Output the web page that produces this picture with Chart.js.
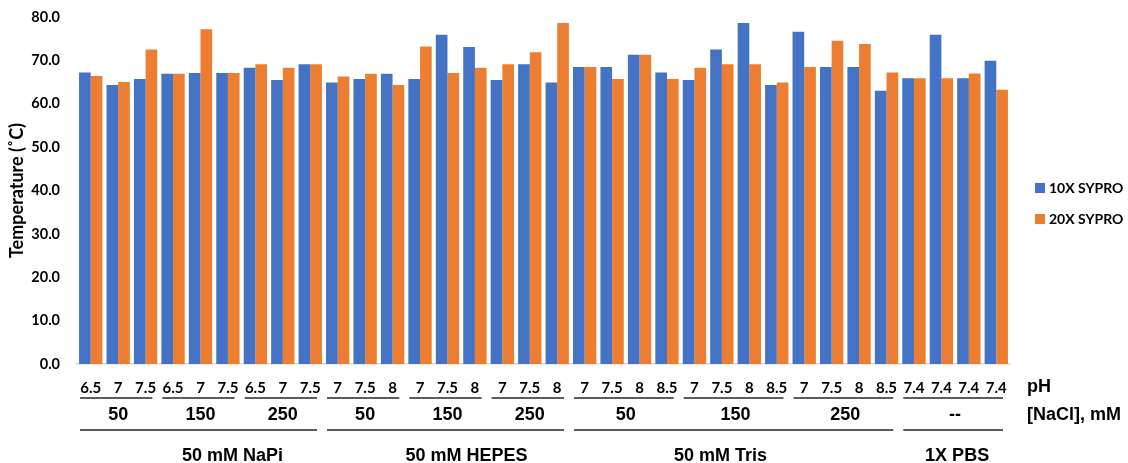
<!DOCTYPE html>
<html>
<head>
<meta charset="utf-8">
<script src="https://cdn.jsdelivr.net/npm/chart.js@4"></script>
<style>
  body { margin: 0; background: #fff; }
  #wrap { width: 1128px; height: 463px; }
</style>
</head>
<body>
<div id="wrap"><canvas id="chart" width="1128" height="463"></canvas></div>
<script>
// DATA
const phLabels = ['6.5', '7', '7.5', '6.5', '7', '7.5', '6.5', '7', '7.5',
    '7', '7.5', '8', '7', '7.5', '8', '7', '7.5', '8',
    '7', '7.5', '8', '8.5', '7', '7.5', '8', '8.5', '7', '7.5', '8', '8.5',
    '7.4', '7.4', '7.4', '7.4'];
const sypro10x = [67.2, 64.3, 65.7, 66.9, 67.1, 67.1, 68.3, 65.5, 69.1,
    64.9, 65.7, 66.9, 65.7, 75.9, 73.1, 65.5, 69.1, 64.9,
    68.5, 68.5, 71.3, 67.2, 65.5, 72.5, 78.6, 64.3, 76.6, 68.5, 68.5, 63.0,
    65.9, 75.9, 65.9, 69.9];
const sypro20x = [66.4, 65.0, 72.5, 66.9, 77.2, 67.1, 69.1, 68.3, 69.1,
    66.3, 66.9, 64.3, 73.2, 67.1, 68.3, 69.1, 71.9, 78.6,
    68.5, 65.7, 71.3, 65.7, 68.3, 69.1, 69.1, 64.9, 68.5, 74.5, 73.8, 67.2,
    65.9, 65.9, 67.0, 63.2];
const naclLabels = ['50', '150', '250', '50', '150', '250', '50', '150', '250', '--'];
const naclSizes = [3, 3, 3, 3, 3, 3, 4, 4, 4, 4];
const bufferLabels = ['50 mM NaPi', '50 mM HEPES', '50 mM Tris', '1X PBS'];
const bufferSizes = [9, 9, 12, 4];
const seriesNames = ['10X SYPRO', '20X SYPRO'];
const seriesColors = ['#4472C4', '#ED7D31'];

const boldLato = (size) => ({ family: 'Lato', weight: 'bold', size: size });
const arialBold = 'bold 18px "Liberation Sans"';

// draws the nested category rows, side labels and the legend
const groupLabels = {
    id: 'groupLabels',
    afterDraw(chart, args, opts) {
        const ctx = chart.ctx;
        const x = chart.scales.x;
        const w = x.width / phLabels.length;
        const left = i => x.getPixelForValue(i) - w / 2;

        ctx.save();
        ctx.strokeStyle = '#262626';
        ctx.lineWidth = 1.4;
        ctx.fillStyle = '#000';
        ctx.textAlign = 'center';
        ctx.textBaseline = 'middle';
        ctx.font = arialBold;

        function drawRow(labels, sizes, lineY, textY, nudges) {
            let start = 0;
            labels.forEach((label, k) => {
                const end = start + sizes[k];
                const x0 = left(start), x1 = left(end);
                ctx.beginPath();
                ctx.moveTo(x0 + 3, lineY);
                ctx.lineTo(x1 - 7, lineY);
                ctx.stroke();
                ctx.fillText(label, (x0 + x1) / 2 + (nudges ? nudges[k] : 0), textY);
                start = end;
            });
        }
        drawRow(naclLabels, naclSizes, 398, 415);
        drawRow(bufferLabels, bufferSizes, 430, 456, opts.bufferNudge);

        ctx.textAlign = 'left';
        ctx.fillText('pH', 1027, 387);
        ctx.fillText('[NaCl], mM', 1027, 415);

        // legend
        ctx.font = 'bold 14px Lato';
        seriesNames.forEach((name, k) => {
            const y = 188 + k * 31;
            ctx.fillStyle = seriesColors[k];
            ctx.fillRect(1035, y - 5, 10, 10);
            ctx.fillStyle = '#000';
            ctx.fillText(name, 1049, y);
        });
        ctx.restore();
    }
};

const chart = new Chart(document.getElementById('chart'), {
    type: 'bar',
    data: {
        labels: phLabels,
        datasets: [{
            label: seriesNames[0], data: sypro10x, backgroundColor: seriesColors[0]
        }, {
            label: seriesNames[1], data: sypro20x, backgroundColor: seriesColors[1]
        }]
    },
    plugins: [groupLabels],
    options: {
        responsive: false,
        animation: false,
        layout: { padding: { left: 0, right: 118, top: 17, bottom: 0 } },
        datasets: { bar: { categoryPercentage: 0.85, barPercentage: 1 } },
        plugins: {
            legend: { display: false },
            tooltip: { enabled: false },
            groupLabels: { bufferNudge: [32, 19, -15, 2] }
        },
        scales: {
            x: {
                grid: { display: false, drawTicks: false },
                border: { color: '#d9d9d9', width: 1.5 },
                ticks: { font: boldLato(15), color: '#000', padding: 15, maxRotation: 0, autoSkip: false },
                afterFit: s => { s.height = 99; }
            },
            y: {
                min: 0, max: 80,
                grid: { display: false, drawTicks: false },
                border: { display: false },
                ticks: { stepSize: 10, callback: v => v.toFixed(1), font: boldLato(14.5), color: '#000', padding: 17 },
                title: { display: true, text: 'Temperature (˚C)', font: boldLato(18), color: '#000', padding: { top: 6, bottom: 0 } },
                afterFit: s => { s.width = 77; s.paddingTop = 0; s.paddingBottom = 0; }
            }
        }
    }
});
</script>
</body>
</html>
